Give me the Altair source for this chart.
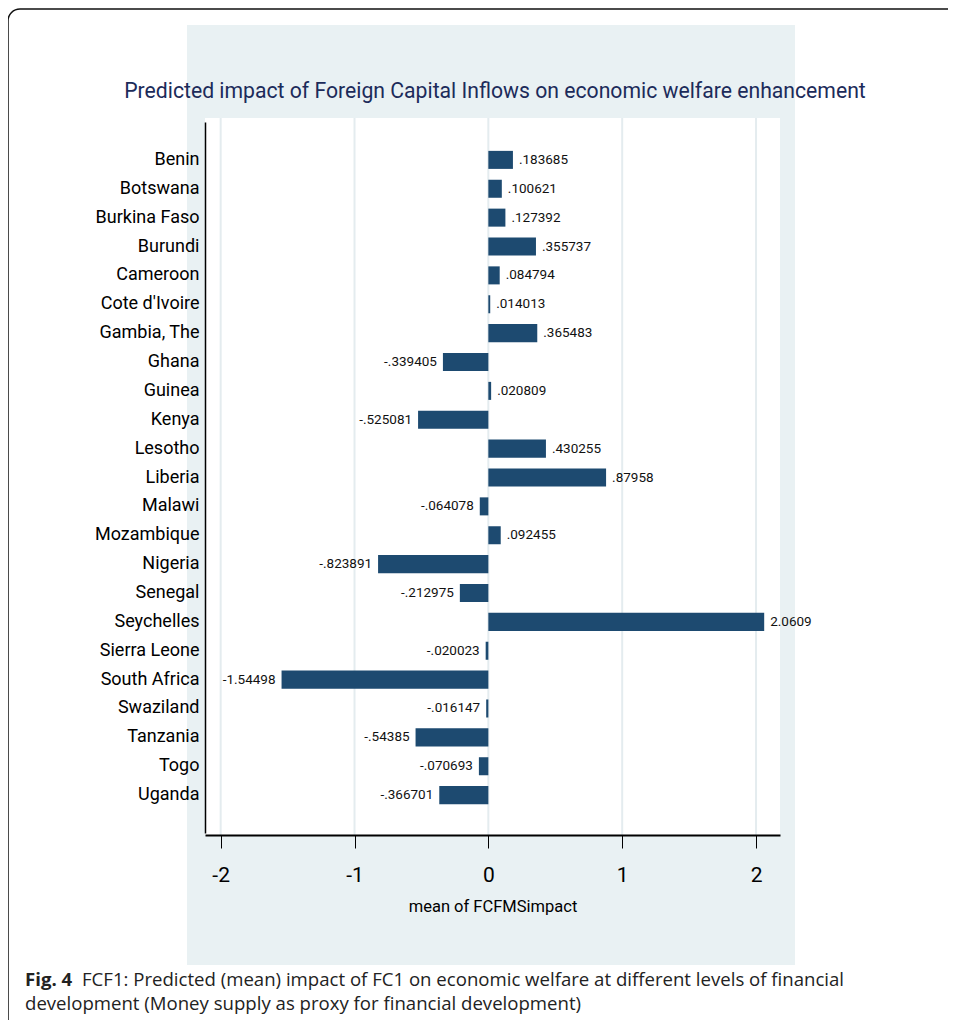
import altair as alt
import pandas as pd

countries = ["Benin", "Botswana", "Burkina Faso", "Burundi", "Cameroon", "Cote d'Ivoire",
             "Gambia, The", "Ghana", "Guinea", "Kenya", "Lesotho", "Liberia", "Malawi",
             "Mozambique", "Nigeria", "Senegal", "Seychelles", "Sierra Leone", "South Africa",
             "Swaziland", "Tanzania", "Togo", "Uganda"]
values = [0.183685, 0.100621, 0.127392, 0.355737, 0.084794, 0.014013, 0.365483, -0.339405,
          0.020809, -0.525081, 0.430255, 0.87958, -0.064078, 0.092455, -0.823891, -0.212975,
          2.0609, -0.020023, -1.54498, -0.016147, -0.54385, -0.070693, -0.366701]
value_labels = [".183685", ".100621", ".127392", ".355737", ".084794", ".014013", ".365483",
                "-.339405", ".020809", "-.525081", ".430255", ".87958", "-.064078", ".092455",
                "-.823891", "-.212975", "2.0609", "-.020023", "-1.54498", "-.016147", "-.54385",
                "-.070693", "-.366701"]
x_ticks = [-2, -1, 0, 1, 2]

title_text = "Predicted impact of Foreign Capital Inflows on economic welfare enhancement"
x_title = "mean of FCFMSimpact"
caption_bold = "Fig. 4"
caption_line1 = "FCF1: Predicted (mean) impact of FC1 on economic welfare at different levels of financial"
caption_line2 = "development (Money supply as proxy for financial development)"

NARROW = "Roboto"
CAPFONT = "Open Sans"
BAR = "#1d4a70"
PANEL = "#e9f1f3"

W, H = 575, 717

df = pd.DataFrame({"country": countries, "value": values, "label": value_labels})
grid_df = pd.DataFrame({"t": x_ticks})

xscale = alt.Scale(domain=[-2.117, 2.179], nice=False, zero=False)
yscale = alt.Scale(domain=countries, paddingInner=0.376, paddingOuter=1, range=[4, 715])

x_axis = alt.Axis(values=x_ticks, grid=False, tickSize=13, tickColor="black",
                  tickWidth=1, domainColor="black", domainWidth=2,
                  labelExpr="'' + datum.value",
                  labelFont=NARROW, labelFontSize=21, labelColor="black",
                  labelPadding=16, title=x_title, titleFont=NARROW,
                  titleFontSize=16.5, titleFontWeight="normal", titleColor="black",
                  titlePadding=13, zindex=1)

one = alt.Data(values=[{"a": 1}])

panel = alt.Chart(one).mark_rect(fill=PANEL).encode(
    x=alt.value(-18), x2=alt.value(590), y=alt.value(-93), y2=alt.value(847))
frame = alt.Chart(one).mark_rect(fill="transparent", stroke="#111", strokeWidth=1.5,
                                 cornerRadius=12).encode(
    x=alt.value(-197), x2=alt.value(800), y=alt.value(-109), y2=alt.value(920))
plotbg = alt.Chart(one).mark_rect(fill="white").encode(
    x=alt.value(0), x2=alt.value(W), y=alt.value(0), y2=alt.value(H))

title_df = pd.DataFrame({"t": [title_text]})
title = alt.Chart(title_df).mark_text(align="center", baseline="alphabetic", font=NARROW,
                                      fontSize=21.2, color="#1c2b5a").encode(
    x=alt.value(290), y=alt.value(-20), text="t:N")

grid = alt.Chart(grid_df).mark_rule(color="#e4ecef", strokeWidth=2).encode(
    x=alt.X("t:Q", scale=xscale, axis=x_axis))

bars = alt.Chart(df).mark_bar(color=BAR).encode(
    x=alt.X("value:Q", scale=xscale, axis=x_axis),
    x2=alt.datum(0),
    y=alt.Y("country:N", scale=yscale, sort=countries,
            axis=alt.Axis(title=None, ticks=False, grid=False, domainColor="black",
                          domainWidth=1.5, labelFont=NARROW, labelFontSize=18,
                          labelColor="black", labelPadding=6, zindex=1)),
)

pos_text = alt.Chart(df).transform_filter("datum.value >= 0").mark_text(
    align="left", baseline="middle", dx=6, font=NARROW, fontSize=13.5, color="#111").encode(
    x=alt.X("value:Q", scale=xscale),
    y=alt.Y("country:N", scale=yscale, sort=countries),
    text="label:N")
neg_text = alt.Chart(df).transform_filter("datum.value < 0").mark_text(
    align="right", baseline="middle", dx=-6, font=NARROW, fontSize=13.5, color="#111").encode(
    x=alt.X("value:Q", scale=xscale),
    y=alt.Y("country:N", scale=yscale, sort=countries),
    text="label:N")

cap_df1 = pd.DataFrame({"t": [caption_bold]})
cap_df2 = pd.DataFrame({"t": [caption_line1]})
cap_df3 = pd.DataFrame({"t": [caption_line2]})
cap_b = alt.Chart(cap_df1).mark_text(align="left", baseline="alphabetic", font=CAPFONT,
                                     fontWeight="bold", fontSize=18.6, color="#222").encode(
    x=alt.value(-180), y=alt.value(868), text="t:N")
cap_1 = alt.Chart(cap_df2).mark_text(align="left", baseline="alphabetic", font=CAPFONT,
                                     fontSize=18.6, color="#222").encode(
    x=alt.value(-123), y=alt.value(868), text="t:N")
cap_2 = alt.Chart(cap_df3).mark_text(align="left", baseline="alphabetic", font=CAPFONT,
                                     fontSize=18.6, color="#222").encode(
    x=alt.value(-180), y=alt.value(892), text="t:N")

chart = alt.layer(frame, panel, plotbg, grid, bars, pos_text, neg_text, title,
                  cap_b, cap_1, cap_2).properties(
    width=W, height=H,
    autosize=alt.AutoSizeParams(type="none"),
    padding={"left": 197, "top": 110, "right": 168, "bottom": 185},
).configure_view(strokeWidth=0).configure(background="white")

chart.save("out.html", embed_options={"renderer": "svg", "actions": False})
